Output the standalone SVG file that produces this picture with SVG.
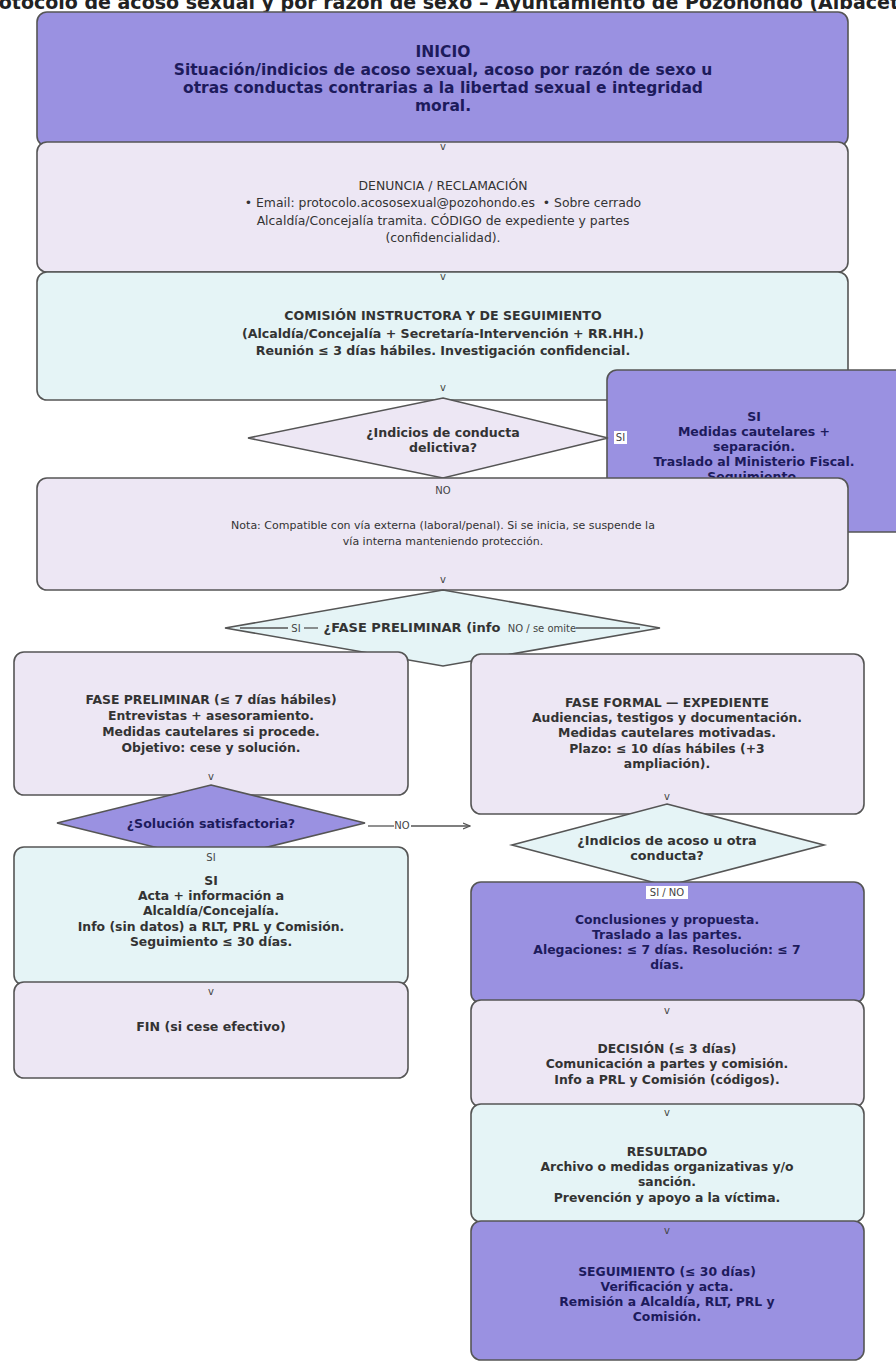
<svg xmlns="http://www.w3.org/2000/svg" width="896" height="1362" viewBox="0 0 896 1362">
<style>
.t{font-family:"DejaVu Sans","Noto Sans",sans-serif;text-anchor:middle}
.b{font-weight:bold}
.pu{fill:#9a91e1;stroke:#555;stroke-width:1.6}
.la{fill:#ede7f4;stroke:#555;stroke-width:1.6}
.cy{fill:#e5f4f6;stroke:#555;stroke-width:1.6}
.dn{fill:#1d1b5c}
.dg{fill:#333}
.v{font-family:"DejaVu Sans",sans-serif;font-size:10px;fill:#444;text-anchor:middle}
.lbl{fill:#fff}
.e{stroke:#555;stroke-width:1.3;fill:none}
</style>
<defs>
<marker id="ah" markerWidth="8" markerHeight="8" refX="7" refY="4" orient="auto" markerUnits="userSpaceOnUse"><path d="M0,1 L7,4 L0,7" fill="none" stroke="#555" stroke-width="1.2"/></marker>
</defs>
<rect width="896" height="1362" fill="#fff"/>
<text class="t b" x="448" y="9" font-size="19" fill="#222">Protocolo de acoso sexual y por razón de sexo – Ayuntamiento de Pozohondo (Albacete)</text>

<g id="n-inicio">
<rect class="pu" x="37" y="12" width="811" height="134" rx="10"/>
<text class="t b dn" font-size="15.5"><tspan x="443" y="57">INICIO</tspan><tspan x="443" y="75">Situación/indicios de acoso sexual, acoso por razón de sexo u</tspan><tspan x="443" y="93">otras conductas contrarias a la libertad sexual e integridad</tspan><tspan x="443" y="111">moral.</tspan></text>
</g>
<g id="n-denuncia">
<rect class="la" x="37" y="142" width="811" height="130" rx="10"/>
<text class="t dg" font-size="12.4"><tspan x="443" y="190">DENUNCIA / RECLAMACIÓN</tspan><tspan x="443" y="207">• Email: protocolo.acososexual@pozohondo.es &#160;• Sobre cerrado</tspan><tspan x="443" y="225">Alcaldía/Concejalía tramita. CÓDIGO de expediente y partes</tspan><tspan x="443" y="242">(confidencialidad).</tspan></text>
</g>
<g id="n-comision">
<rect class="cy" x="37" y="272" width="811" height="128" rx="10"/>
<text class="t b dg" font-size="12.6"><tspan x="443" y="320">COMISIÓN INSTRUCTORA Y DE SEGUIMIENTO</tspan><tspan x="443" y="338">(Alcaldía/Concejalía + Secretaría-Intervención + RR.HH.)</tspan><tspan x="443" y="355">Reunión ≤ 3 días hábiles. Investigación confidencial.</tspan></text>
</g>
<g id="n-fiscal">
<rect class="pu" x="607" y="370" width="300" height="162" rx="10"/>
<text class="t b dn" font-size="12.5"><tspan x="754" y="421">SI</tspan><tspan x="754" y="436">Medidas cautelares +</tspan><tspan x="754" y="451">separación.</tspan><tspan x="754" y="466">Traslado al Ministerio Fiscal.</tspan><tspan x="754" y="481">Seguimiento.</tspan></text>
</g>
<g id="n-delictiva">
<polygon class="la" points="443,398 608,438 443,478 248,438"/>
<text class="t b dg" font-size="12.6"><tspan x="443" y="437">¿Indicios de conducta</tspan><tspan x="443" y="452">delictiva?</tspan></text>
</g>
<g id="n-nota">
<rect class="la" x="37" y="478" width="811" height="112" rx="10"/>
<text class="t dg" font-size="11"><tspan x="443" y="529">Nota: Compatible con vía externa (laboral/penal). Si se inicia, se suspende la</tspan><tspan x="443" y="545">vía interna manteniendo protección.</tspan></text>
</g>
<g id="n-fasepre-q">
<polygon class="cy" points="443,590 660,628 443,666 225,628"/>
<text class="t b dg" font-size="13" x="412" y="632">¿FASE PRELIMINAR (info</text>
</g>
<g id="n-preliminar">
<rect class="la" x="14" y="652" width="394" height="143" rx="10"/>
<text class="t b dg" font-size="12.4"><tspan x="211" y="704">FASE PRELIMINAR (≤ 7 días hábiles)</tspan><tspan x="211" y="720">Entrevistas + asesoramiento.</tspan><tspan x="211" y="736">Medidas cautelares si procede.</tspan><tspan x="211" y="752">Objetivo: cese y solución.</tspan></text>
</g>
<g id="n-formal">
<rect class="la" x="471" y="654" width="393" height="160" rx="10"/>
<text class="t b dg" font-size="12.4"><tspan x="667" y="707">FASE FORMAL — EXPEDIENTE</tspan><tspan x="667" y="722">Audiencias, testigos y documentación.</tspan><tspan x="667" y="737">Medidas cautelares motivadas.</tspan><tspan x="667" y="753">Plazo: ≤ 10 días hábiles (+3</tspan><tspan x="667" y="768">ampliación).</tspan></text>
</g>
<g id="n-solucion">
<polygon class="pu" points="211,785 365,823 211,861 57,823"/>
<text class="t b dn" font-size="12.6" x="211" y="828">¿Solución satisfactoria?</text>
</g>
<g id="n-si">
<rect class="cy" x="14" y="847" width="394" height="138" rx="10"/>
<text class="t b dg" font-size="12.4"><tspan x="211" y="885">SI</tspan><tspan x="211" y="900">Acta + información a</tspan><tspan x="211" y="915">Alcaldía/Concejalía.</tspan><tspan x="211" y="931">Info (sin datos) a RLT, PRL y Comisión.</tspan><tspan x="211" y="946">Seguimiento ≤ 30 días.</tspan></text>
</g>
<g id="n-fin">
<rect class="la" x="14" y="982" width="394" height="96" rx="10"/>
<text class="t b dg" font-size="12.6" x="211" y="1031">FIN (si cese efectivo)</text>
</g>
<g id="n-indicios">
<polygon class="cy" points="667,804 824,845 667,886 512,845"/>
<text class="t b dg" font-size="12.8"><tspan x="667" y="845">¿Indicios de acoso u otra</tspan><tspan x="667" y="860">conducta?</tspan></text>
</g>
<g id="n-conclusiones">
<rect class="pu" x="471" y="882" width="393" height="121" rx="10"/>
<text class="t b dn" font-size="12.4"><tspan x="667" y="924">Conclusiones y propuesta.</tspan><tspan x="667" y="939">Traslado a las partes.</tspan><tspan x="667" y="954">Alegaciones: ≤ 7 días. Resolución: ≤ 7</tspan><tspan x="667" y="969">días.</tspan></text>
</g>
<g id="n-decision">
<rect class="la" x="471" y="1000" width="393" height="107" rx="10"/>
<text class="t b dg" font-size="12.4"><tspan x="667" y="1053">DECISIÓN (≤ 3 días)</tspan><tspan x="667" y="1068">Comunicación a partes y comisión.</tspan><tspan x="667" y="1084">Info a PRL y Comisión (códigos).</tspan></text>
</g>
<g id="n-resultado">
<rect class="cy" x="471" y="1104" width="393" height="118" rx="10"/>
<text class="t b dg" font-size="12.4"><tspan x="667" y="1156">RESULTADO</tspan><tspan x="667" y="1171">Archivo o medidas organizativas y/o</tspan><tspan x="667" y="1186">sanción.</tspan><tspan x="667" y="1202">Prevención y apoyo a la víctima.</tspan></text>
</g>
<g id="n-seguimiento">
<rect class="pu" x="471" y="1221" width="393" height="139" rx="10"/>
<text class="t b dn" font-size="12.4"><tspan x="667" y="1276">SEGUIMIENTO (≤ 30 días)</tspan><tspan x="667" y="1291">Verificación y acta.</tspan><tspan x="667" y="1306">Remisión a Alcaldía, RLT, PRL y</tspan><tspan x="667" y="1321">Comisión.</tspan></text>
</g>

<g id="connectors">
<text class="v" x="443" y="150">v</text>
<text class="v" x="443" y="280">v</text>
<text class="v" x="443" y="391">v</text>
<rect class="lbl" x="614" y="431" width="13" height="13"/>
<text class="v" x="620.5" y="441" font-size="9">SI</text>
<text class="v" x="443" y="494" font-size="9">NO</text>
<text class="v" x="443" y="583">v</text>
<line class="e" x1="240" y1="628" x2="288" y2="628"/>
<text class="v" x="296" y="632" font-size="9">SI</text>
<line class="e" x1="304" y1="628" x2="318" y2="628"/>
<text class="v" x="542" y="632" font-size="9">NO / se omite</text>
<line class="e" x1="576" y1="628" x2="640" y2="628"/>
<text class="v" x="211" y="780">v</text>
<text class="v" x="667" y="800">v</text>
<line class="e" x1="368" y1="826" x2="394" y2="826"/>
<text class="v" x="402" y="829" font-size="9">NO</text>
<line class="e" x1="411" y1="826" x2="470" y2="826" marker-end="url(#ah)"/>
<text class="v" x="211" y="861" font-size="9">SI</text>
<text class="v" x="211" y="995">v</text>
<rect class="lbl" x="646" y="886" width="42" height="13"/>
<text class="v" x="667" y="896" font-size="9">SI / NO</text>
<text class="v" x="667" y="1014">v</text>
<text class="v" x="667" y="1116">v</text>
<text class="v" x="667" y="1234">v</text>
</g>
</svg>
